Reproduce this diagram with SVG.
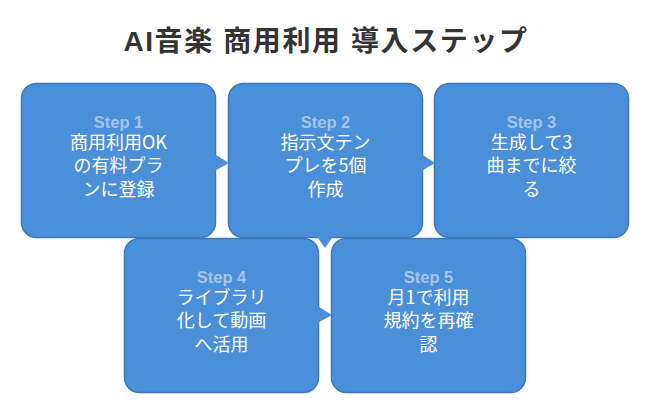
<svg xmlns="http://www.w3.org/2000/svg" width="650" height="415" viewBox="0 0 650 415">
<style>
.box{fill:#4A8FD8;stroke:#3A78C2;stroke-width:1.5}
.ptr{fill:#4A8FD8;stroke:none}
.step{font-family:"Liberation Sans","Noto Sans CJK JP",sans-serif;font-weight:bold;font-size:16.5px;fill:#A4C6EE;text-anchor:middle}
.body{font-family:"Noto Sans CJK JP","Noto Sans",sans-serif;font-size:18px;fill:#FFFFFF;text-anchor:middle}
.title{font-family:"Liberation Sans","Noto Sans CJK JP",sans-serif;font-weight:bold;font-size:28px;letter-spacing:1.6px;fill:#333333;text-anchor:middle}
</style>
<rect width="650" height="415" fill="#FFFFFF"/>
<text class="title" x="326" y="51">AI音楽 商用利用 導入ステップ</text>
<g id="node-step1">
<rect class="box" x="21.5" y="83.5" width="194" height="154" rx="15"/>
<text class="step" x="118.5" y="127.5">Step 1</text>
<text class="body" x="118.5" y="148.5">商用利用OK</text>
<text class="body" x="118.5" y="172">の有料プラ</text>
<text class="body" x="118.5" y="195.5">ンに登録</text>
</g>
<g id="node-step2">
<rect class="box" x="228.5" y="83.5" width="194" height="154" rx="15"/>
<text class="step" x="325.5" y="127.5">Step 2</text>
<text class="body" x="325.5" y="148.5">指示文テン</text>
<text class="body" x="325.5" y="172">プレを5個</text>
<text class="body" x="325.5" y="195.5">作成</text>
</g>
<g id="node-step3">
<rect class="box" x="434.5" y="83.5" width="194" height="154" rx="15"/>
<text class="step" x="531.5" y="127.5">Step 3</text>
<text class="body" x="531.5" y="148.5">生成して3</text>
<text class="body" x="531.5" y="172">曲までに絞</text>
<text class="body" x="531.5" y="195.5">る</text>
</g>
<g id="node-step4">
<rect class="box" x="124.5" y="238.5" width="194" height="154" rx="15"/>
<text class="step" x="221.5" y="282.5">Step 4</text>
<text class="body" x="221.5" y="303.5">ライブラリ</text>
<text class="body" x="221.5" y="327">化して動画</text>
<text class="body" x="221.5" y="350.5">へ活用</text>
</g>
<g id="node-step5">
<rect class="box" x="331.5" y="238.5" width="194" height="154" rx="15"/>
<text class="step" x="428.5" y="282.5">Step 5</text>
<text class="body" x="428.5" y="303.5">月1で利用</text>
<text class="body" x="428.5" y="327">規約を再確</text>
<text class="body" x="428.5" y="350.5">認</text>
</g>
<g id="connectors">
<polygon class="ptr" points="214.5,154 229,163 214.5,171"/>
<polygon class="ptr" points="421.5,154 435,163 421.5,171"/>
<polygon class="ptr" points="317,236.5 325,248 333,236.5"/>
<polygon class="ptr" points="317.5,306 332,315 317.5,323"/>
</g>
</svg>
